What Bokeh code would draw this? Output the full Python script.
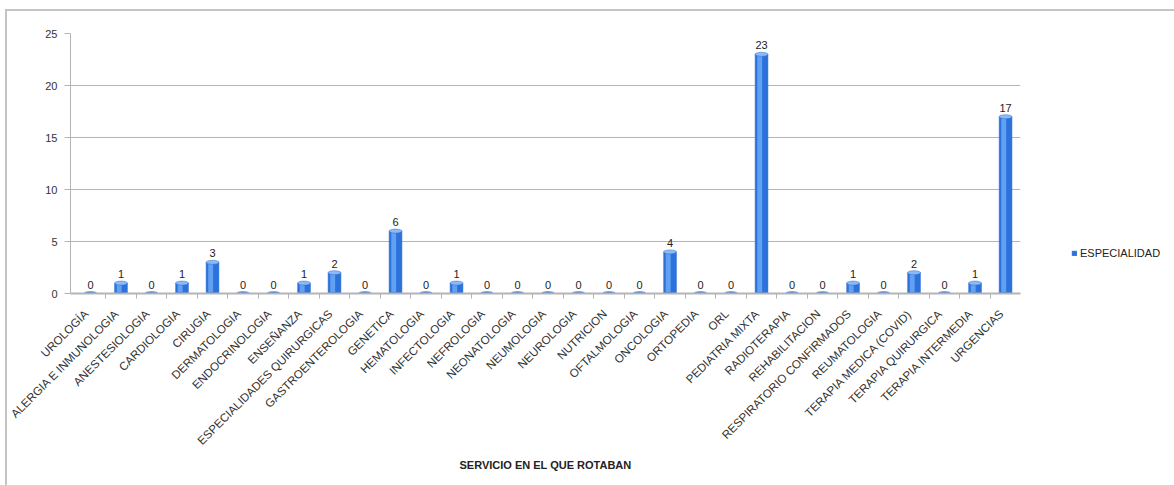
from bokeh.plotting import figure
from bokeh.models import ColumnDataSource, Legend, LegendItem, FixedTicker, Range1d
from bokeh.transform import dodge
from bokeh.core.properties import value
from bokeh.embed import file_html
from bokeh.resources import INLINE
import math

categories = ["UROLOGÍA", "ALERGIA E INMUNOLOGIA", "ANESTESIOLOGIA", "CARDIOLOGIA", "CIRUGIA",
              "DERMATOLOGIA", "ENDOCRINOLOGIA", "ENSEÑANZA", "ESPECIALIDADES QUIRURGICAS",
              "GASTROENTEROLOGIA", "GENETICA", "HEMATOLOGIA", "INFECTOLOGIA", "NEFROLOGIA",
              "NEONATOLOGIA", "NEUMOLOGIA", "NEUROLOGIA", "NUTRICION", "OFTALMOLOGIA",
              "ONCOLOGIA", "ORTOPEDIA", "ORL", "PEDIATRIA MIXTA", "RADIOTERAPIA",
              "REHABILITACION", "RESPIRATORIO CONFIRMADOS", "REUMATOLOGIA",
              "TERAPIA MEDICA (COVID)", "TERAPIA QUIRURGICA", "TERAPIA INTERMEDIA", "URGENCIAS"]
especialidad = [0, 1, 0, 1, 3, 0, 0, 1, 2, 0, 6, 0, 1, 0, 0, 0, 0, 0, 0, 4, 0, 0, 23,
                0, 0, 1, 0, 2, 0, 1, 17]
y_ticks = [0, 5, 10, 15, 20, 25]
series_name = "ESPECIALIDAD"
x_title = "SERVICIO EN EL QUE ROTABAN"

n = len(categories)
idx = list(range(n))
src = ColumnDataSource(dict(x=idx, val=especialidad,
                            lab=[str(v) for v in especialidad],
                            zero=[0] * n))

FONT = "Liberation Sans"
LABEL_SHIFT = -0.15

p = figure(x_range=Range1d(-0.656, n - 0.51), y_range=Range1d(0, 25),
           frame_width=950, frame_height=260,
           output_backend="svg", toolbar_location=None,
           min_border_left=63, min_border_top=22, min_border_bottom=192,
           min_border_right=154)
p.margin = (9, 0, 0, 5)
p.styles = {"border-top": "2px solid #c4c4c4", "border-left": "2px solid #c4c4c4"}
p.outline_line_color = None
p.background_fill_color = "white"
p.border_fill_color = "white"

# bars (cylinder look)
base = p.vbar(x="x", top="val", width=0.42, source=src,
              fill_color="#2c72dc", line_color="#2a6fd8", line_width=0.5)
p.vbar(x=dodge("x", -0.06), top="val", width=0.16, source=src,
       fill_color="#62a0f2", line_color=None)
p.ellipse(x="x", y="val", width=13, height=4, width_units="screen",
          height_units="screen", source=src, fill_color="#8dbaf5", line_color="#2a6fd8",
          line_width=0.5)
p.ellipse(x="x", y="zero", width=13, height=3, width_units="screen",
          height_units="screen", source=src, fill_color="#2a6fd8", line_color=None)

# value labels
p.text(x="x", y="val", text="lab", source=src, text_align="center",
       text_baseline="bottom", y_offset=-5, text_font=value(FONT),
       text_font_size="11px", text_color="#222222")

# axes
p.yaxis.ticker = FixedTicker(ticks=y_ticks)
p.yaxis.major_label_text_font = FONT
p.yaxis.major_label_text_font_size = "11px"
p.yaxis.major_label_text_color = "#333333"
p.yaxis.axis_line_color = "#b4b4b4"
p.yaxis.major_tick_line_color = "#b4b4b4"
p.yaxis.major_tick_out = 6
p.yaxis.major_tick_in = 0
p.yaxis.minor_tick_line_color = None
p.yaxis.major_label_standoff = 7

label_pos = [i + LABEL_SHIFT for i in idx]
p.xaxis.ticker = FixedTicker(ticks=label_pos, minor_ticks=[i + 0.5 for i in idx[:-1]])
p.xaxis.major_label_overrides = {pos: c for pos, c in zip(label_pos, categories)}
p.xaxis.major_label_orientation = math.pi / 4
p.xaxis.major_label_text_font = FONT
p.xaxis.major_label_text_font_size = "11.6px"
p.xaxis.major_label_text_color = "#333333"
p.xaxis.axis_line_color = "#b4b4b4"
p.xaxis.axis_line_width = 2
p.xaxis.major_tick_line_color = None
p.xaxis.minor_tick_line_color = "#b4b4b4"
p.xaxis.minor_tick_out = 5
p.xaxis.minor_tick_in = 0
p.xaxis.major_label_standoff = 12
p.xaxis.axis_label = x_title
p.xaxis.axis_label_text_font = FONT
p.xaxis.axis_label_text_font_size = "11px"
p.xaxis.axis_label_text_font_style = "bold"
p.xaxis.axis_label_text_color = "#222222"
p.xaxis.axis_label_standoff = 5

p.xgrid.grid_line_color = None
p.ygrid.grid_line_color = "#b4b4b4"
p.ygrid.grid_line_width = 1

legend = Legend(items=[LegendItem(label=series_name, renderers=[base])],
                location=(51, 34), border_line_color=None, background_fill_alpha=0,
                glyph_width=6, glyph_height=6, label_standoff=3, padding=0, margin=0,
                label_text_font=FONT, label_text_font_size="11px",
                label_text_color="#222222")
p.add_layout(legend, "right")

open("out.html", "w").write(file_html(p, INLINE))
